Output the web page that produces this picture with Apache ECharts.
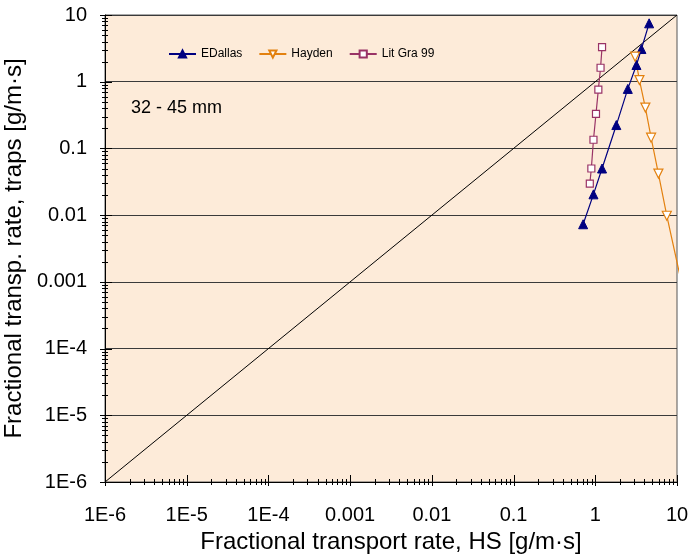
<!DOCTYPE html>
<html>
<head>
<meta charset="utf-8">
<script src="https://cdn.jsdelivr.net/npm/echarts@6/dist/echarts.min.js"></script>
<style>html,body{margin:0;padding:0;background:#fff}#c{width:688px;height:557px}</style>
</head>
<body>
<div id="c"></div>
<script>
// ---- data ----
const xTickLabels = ['1E-6','1E-5','1E-4','0.001','0.01','0.1','1','10'];
const yTickLabels = ['1E-6','1E-5','1E-4','0.001','0.01','0.1','1','10'];
const AXIS_MIN = 1e-6, AXIS_MAX = 10;

const edallasX = [0.71, 0.95, 1.21, 1.81, 2.5, 3.19, 3.67, 4.56];
const edallasY = [0.0073, 0.0205, 0.050, 0.224, 0.78, 1.78, 3.09, 7.5];

const haydenX = [3.07, 3.47, 4.1, 4.82, 5.92, 7.5, 11.5];
const haydenY = [2.37, 1.06, 0.41, 0.145, 0.042, 0.0098, 0.0009];

const litGraX = [1.21, 1.16, 1.09, 1.02, 0.95, 0.895, 0.857];
const litGraY = [3.31, 1.62, 0.76, 0.33, 0.135, 0.050, 0.0296];

const diagonalX = [1e-6, 10];
const diagonalY = [1e-6, 10];

const seriesNames = ['EDallas', 'Hayden', 'Lit Gra 99'];
const annotation = '32 - 45 mm';

// ---- build ----
const FONT = '"Liberation Sans", Arial, sans-serif';
const zip = (a, b) => a.map((v, i) => [v, b[i]]);
const labelFor = (arr) => (v) => {
  const k = Math.round(Math.log10(v)) + 6;
  return arr[k] !== undefined ? arr[k] : '';
};

// tick positions (decades = major, 2..9 = minor)
const xTicks = [], yTicks = [];
for (let e = -6; e <= 1; e++) {
  for (let m = 1; m <= 9; m++) {
    const v = m * Math.pow(10, e);
    if (v > AXIS_MAX * 1.0001) break;
    xTicks.push([v, AXIS_MIN, m === 1 ? 1 : 0]);
    yTicks.push([AXIS_MIN, v, m === 1 ? 1 : 0]);
  }
}

const chart = echarts.init(document.getElementById('c'), null, {renderer: 'canvas'});
chart.setOption({
  animation: false,
  backgroundColor: '#ffffff',
  textStyle: {fontFamily: FONT},
  title: {
    text: annotation, left: 126, top: 94,
    textStyle: {fontFamily: FONT, fontSize: 18, fontWeight: 'normal', color: '#000'}
  },
  legend: {
    data: seriesNames, left: 163, top: 43,
    itemWidth: 27, itemHeight: 9, itemGap: 16,
    textStyle: {fontFamily: FONT, fontSize: 12, color: '#000'}
  },
  grid: {
    left: 105, right: 11, top: 15, bottom: 75,
    containLabel: false, outerBoundsMode: 'none',
    show: true, backgroundColor: '#FDEBD9', borderColor: '#555', borderWidth: 1
  },
  xAxis: {
    type: 'log', logBase: 10, min: AXIS_MIN, max: AXIS_MAX, splitNumber: 7,
    name: 'Fractional transport rate, HS [g/m\u00b7s]',
    nameLocation: 'middle', nameGap: 44,
    nameTextStyle: {fontFamily: FONT, fontSize: 24, color: '#000'},
    axisLine: {lineStyle: {color: '#000', width: 1}},
    axisTick: {show: false},
    minorTick: {show: false},
    splitLine: {show: false},
    axisLabel: {fontFamily: FONT, fontSize: 20, color: '#000', margin: 23,
      formatter: labelFor(xTickLabels), showMinLabel: true, showMaxLabel: true}
  },
  yAxis: {
    type: 'log', logBase: 10, min: AXIS_MIN, max: AXIS_MAX, splitNumber: 7,
    name: 'Fractional transp. rate, traps [g/m\u00b7s]',
    nameLocation: 'middle', nameGap: 74,
    nameTextStyle: {fontFamily: FONT, fontSize: 24, color: '#000'},
    axisLine: {lineStyle: {color: '#000', width: 1}},
    axisTick: {show: false},
    minorTick: {show: false},
    splitLine: {show: true, lineStyle: {color: '#3a3a3a', width: 1}},
    axisLabel: {fontFamily: FONT, fontSize: 20, color: '#000', margin: 18,
      formatter: labelFor(yTickLabels), showMinLabel: true, showMaxLabel: true}
  },
  series: [
    {
      name: 'diagonal', type: 'line', data: zip(diagonalX, diagonalY),
      showSymbol: false, symbol: 'none', silent: true,
      lineStyle: {color: '#000', width: 1}, z: 2
    },
    {
      name: seriesNames[0], type: 'line', data: zip(edallasX, edallasY),
      symbol: 'triangle', symbolSize: 9,
      itemStyle: {color: '#000080', borderColor: '#000080', borderWidth: 1},
      lineStyle: {color: '#000080', width: 1.2}, z: 4
    },
    {
      name: seriesNames[1], type: 'line', data: zip(haydenX, haydenY),
      symbol: 'triangle', symbolRotate: 180, symbolSize: 9,
      itemStyle: {color: '#ffffff', borderColor: '#E3810F', borderWidth: 1.2},
      lineStyle: {color: '#E3810F', width: 1.2}, z: 4
    },
    {
      name: seriesNames[2], type: 'line', data: zip(litGraX, litGraY),
      symbol: 'rect', symbolSize: 7,
      itemStyle: {color: '#ffffff', borderColor: '#993366', borderWidth: 1.2},
      lineStyle: {color: '#993366', width: 1.2}, z: 4
    },
    {
      name: 'xticks', type: 'custom', silent: true, clip: false, z: 6,
      data: xTicks,
      renderItem: (params, api) => {
        const p = api.coord([api.value(0), api.value(1)]);
        const maj = api.value(2) === 1;
        const x = Math.round(p[0]) + 0.5;
        return {type: 'line', shape: {x1: x, y1: p[1] - (maj ? 7 : 3), x2: x, y2: p[1] + (maj ? 4 : 3)},
          style: {stroke: '#000', lineWidth: 1}};
      }
    },
    {
      name: 'yticks', type: 'custom', silent: true, clip: false, z: 6,
      data: yTicks,
      renderItem: (params, api) => {
        const p = api.coord([api.value(0), api.value(1)]);
        const maj = api.value(2) === 1;
        const y = Math.round(p[1]) + 0.5;
        return {type: 'line', shape: {x1: p[0] - (maj ? 5 : 3), y1: y, x2: p[0] + (maj ? 7 : 3), y2: y},
          style: {stroke: '#000', lineWidth: 1}};
      }
    }
  ]
});
</script>
</body>
</html>
